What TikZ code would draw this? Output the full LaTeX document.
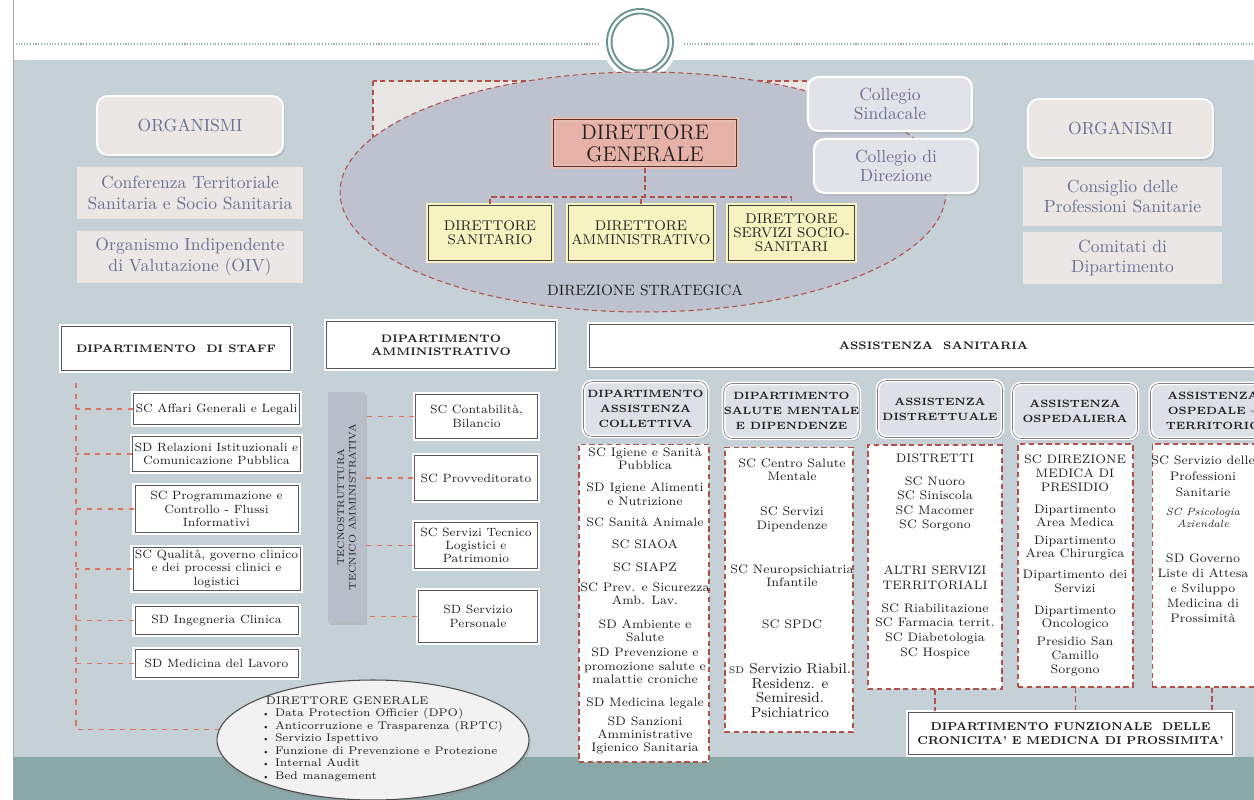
\documentclass[tikz,border=0pt]{standalone}
\usepackage{tikz}
\usetikzlibrary{shapes.geometric,shadows}

\definecolor{bgpanel}{HTML}{C5D1D6}
\definecolor{bgband}{HTML}{8BA8A9}
\definecolor{ringteal}{HTML}{6C9696}
\definecolor{orgfill}{HTML}{EBE7E4}
\definecolor{orgtext}{HTML}{6A7092}
\definecolor{collfill}{HTML}{E1E3E9}
\definecolor{stratfill}{HTML}{BEC2CF}
\definecolor{backfill}{HTML}{E9E6E3}
\definecolor{dgfill}{HTML}{E6B1A6}
\definecolor{dgline}{HTML}{5E342E}
\definecolor{dirfill}{HTML}{F7F3C1}
\definecolor{dashred}{HTML}{B0524A}
\definecolor{staffred}{HTML}{DE7563}
\definecolor{subfill}{HTML}{DEE0E7}
\definecolor{tecnofill}{HTML}{B9BDCA}
\definecolor{inktext}{HTML}{1E1E1E}

\begin{document}
\begin{tikzpicture}[x=0.02cm,y=-0.02cm]
    \tikzstyle{shade}=[drop shadow={opacity=0.25, shadow xshift=1pt, shadow yshift=-1.5pt}];
    \tikzstyle{orghead}=[shade, draw=white, line width=1pt, fill=orgfill, rounded corners=6pt, text=orgtext, font=\fontsize{10}{11.5}\selectfont, inner sep=0pt];
    \tikzstyle{orgitem}=[fill=orgfill, text=orgtext, align=center, font=\fontsize{10}{11.5}\selectfont, inner sep=0pt];
    \tikzstyle{collbox}=[shade, draw=white, line width=1.2pt, fill=collfill, rounded corners=6pt, text=orgtext, align=center, font=\fontsize{10}{11}\selectfont, inner sep=0pt];
    \tikzstyle{strat}=[ellipse, draw=dashred, densely dashed, line width=0.6pt, fill=stratfill, minimum width=12.12cm, minimum height=4.8cm, inner sep=0pt];
    \tikzstyle{dgbox}=[shade, fill=dgfill, draw=dgfill!85!white, double=dgline, line width=1.3pt, double distance=0.5pt, align=center, text=inktext, font=\fontsize{12}{12.5}\selectfont, inner sep=0pt];
    \tikzstyle{dirbox}=[shade, fill=dirfill, draw=dirfill, double=black!75, line width=1.3pt, double distance=0.5pt, align=center, text=inktext, font=\fontsize{8}{8}\selectfont, inner sep=0pt, minimum height=1.1cm];
    \tikzstyle{dashline}=[dashred, densely dashed, line width=0.6pt];
    \tikzstyle{staffline}=[staffred, dashed, line width=0.8pt];
    \tikzstyle{depthead}=[shade, fill=white, draw=white, double=black!65, line width=1.2pt, double distance=0.5pt, align=center, text=inktext, font=\bfseries\fontsize{6.2}{7.6}\selectfont, inner sep=0pt];
    \tikzstyle{itembox}=[shade, fill=white, draw=white, double=black!65, line width=1.2pt, double distance=0.5pt, align=center, text=inktext, font=\fontsize{6.8}{7.6}\selectfont, inner sep=1pt];
    \tikzstyle{subhead}=[shade, fill=subfill, draw=white, double=black!50, line width=0.9pt, double distance=0.4pt, rounded corners=5pt, align=center, text=inktext, font=\bfseries\fontsize{6}{8.4}\selectfont, inner sep=0pt, minimum width=2.48cm, minimum height=1.1cm];
    \tikzstyle{listbox}=[fill=white, draw=dashred, densely dashed, line width=0.6pt, inner sep=0pt];
    \tikzstyle{listtxt}=[align=center, text=inktext, font=\fontsize{7}{7.6}\selectfont, inner sep=0pt];

    \useasboundingbox (0,0) rectangle (1254,800);
    \clip (0,0) rectangle (1254,800);

    \fill[bgpanel] (13,60) rectangle (1254,757);
    \fill[bgband] (13,757) rectangle (1254,800);
    \draw[gray!70, line width=0.4pt] (13,0) -- (13,800);
    \draw[ringteal!80, densely dotted, line width=0.6pt] (13,44) -- (598,44) (684,44) -- (1254,44);
    \fill[white] (640,42) circle [radius=0.76cm];
    \draw[ringteal, line width=1.1pt] (640,42) circle [radius=0.66cm];
    \draw[ringteal, line width=1.1pt] (640,42) circle [radius=0.57cm];

    \node[orghead, minimum width=3.72cm, minimum height=1.18cm] (orgL) at (190,125.5) {ORGANISMI};
    \node[orgitem, minimum width=4.52cm, minimum height=1.04cm] (confts) at (190,193) {Conferenza Territoriale\\Sanitaria e Socio Sanitaria};
    \node[orgitem, minimum width=4.52cm, minimum height=1.04cm] (oiv) at (190,257) {Organismo Indipendente\\di Valutazione (OIV)};

    \draw[dashline, fill=backfill] (373,81) rectangle (818,200);
    \node[strat] (strat) at (643,192) {};
    \node[font=\fontsize{8.5}{9}\selectfont, text=inktext] (stratlabel) at (645,290) {DIREZIONE STRATEGICA};

    \node[dgbox, minimum width=3.66cm, minimum height=0.94cm] (dg) at (645,143) {DIRETTORE\\GENERALE};
    \node[dirbox, minimum width=2.46cm] (ds) at (490,233) {DIRETTORE\\SANITARIO};
    \node[dirbox, minimum width=2.9cm] (da) at (641,233) {DIRETTORE\\AMMINISTRATIVO};
    \node[dirbox, minimum width=2.52cm] (dss) at (791.5,233) {DIRETTORE\\SERVIZI SOCIO-\\SANITARI};
    \coordinate (dgbar) at (645,197);
    \draw[dashline] (dg.south) -- (dgbar);
    \draw[dashline] (ds.north) |- (dgbar) -| (dss.north);
    \draw[dashline] (da.north) -- (da.north |- dgbar);

    \node[collbox, minimum width=3.28cm, minimum height=1.08cm] (csind) at (890,104) {Collegio\\Sindacale};
    \node[collbox, minimum width=3.28cm, minimum height=1.08cm] (cdir) at (896,166) {Collegio di\\Direzione};

    \node[orghead, minimum width=3.7cm, minimum height=1.18cm] (orgR) at (1120.5,128.5) {ORGANISMI};
    \node[orgitem, minimum width=3.98cm, minimum height=1.18cm] (cps) at (1122.5,196.5) {Consiglio delle\\Professioni Sanitarie};
    \node[orgitem, minimum width=3.98cm, minimum height=1.04cm] (cdip) at (1122.5,258) {Comitati di\\Dipartimento};

    \node[depthead, minimum width=4.58cm, minimum height=0.88cm] (staff) at (176,348.5) {DIPARTIMENTO\ \ DI STAFF};
    \foreach \n/\y/\h/\t in {stA/409/0.62/SC Affari Generali e Legali, stB/454/0.7/SD Relazioni Istituzionali e\\Comunicazione Pubblica, stC/509/0.94/SC Programmazione e\\Controllo - Flussi\\Informativi, stD/569/0.86/{SC Qualità, governo clinico\\e dei processi clinici e\\logistici}, stE/620.5/0.56/SD Ingegneria Clinica, stF/663.5/0.56/SD Medicina del Lavoro}
        \node[itembox, minimum width=3.26cm, minimum height=\h cm] (\n) at (216.5,\y) {\t};

    \node[ellipse, shade, fill=white!95!black, draw=black!70, line width=0.6pt, minimum width=6.24cm, minimum height=2.4cm, inner sep=0pt] (dgstaff) at (373,740) {};
    \node[anchor=north west, align=left, text=inktext, font=\fontsize{6.3}{7.1}\selectfont, inner sep=0pt] (dglist) at (261,696) {\ DIRETTORE GENERALE\\{\tiny\textbullet} Data Protection Officier (DPO)\\{\tiny\textbullet} Anticorruzione e Trasparenza (RPTC)\\{\tiny\textbullet} Servizio Ispettivo\\{\tiny\textbullet} Funzione di Prevenzione e Protezione\\{\tiny\textbullet} Internal Audit\\{\tiny\textbullet} Bed management};

    \coordinate (stafftop) at (76,383);
    \coordinate (staffbot) at (dgstaff.176 -| stafftop);
    \draw[staffline] (stafftop) -- (staffbot) -- (dgstaff.176);
    \foreach \n in {stA,stB,stC,stD,stE,stF}
        \draw[staffline] (\n.west) -- (\n.west -| stafftop);

    \node[depthead, minimum width=4.58cm, minimum height=0.94cm] (damm) at (441,345) {DIPARTIMENTO\\AMMINISTRATIVO};
    \node[shade, fill=tecnofill, rotate=90, minimum width=4.6cm, minimum height=0.74cm, align=center, text=inktext, font=\fontsize{5.5}{6.6}\selectfont, inner sep=0pt] (tecno) at (346.5,507) {TECNOSTRUTTURA\\TECNICO AMMINISTRATIVA};
    \node[itembox, minimum width=2.44cm, minimum height=0.88cm] (amA) at (476.5,416.5) {SC Contabilità,\\Bilancio};
    \node[itembox, minimum width=2.46cm, minimum height=0.9cm] (amB) at (476,478) {SC Provveditorato};
    \node[itembox, minimum width=2.46cm, minimum height=0.92cm] (amC) at (476,545.5) {SC Servizi Tecnico\\Logistici e\\Patrimonio};
    \node[itembox, minimum width=2.38cm, minimum height=1.04cm] (amD) at (478,616.5) {SD Servizio\\Personale};
    \foreach \n in {amA,amB,amC,amD}
        \draw[staffline] (\n.west) -- (\n.west -| tecno.south);

    \node[depthead, minimum width=13.76cm, minimum height=0.86cm] (assan) at (933.5,346) {ASSISTENZA\ \ SANITARIA};

    \node[subhead] (coll) at (645.5,409) {DIPARTIMENTO\\ASSISTENZA\\COLLETTIVA};
    \node[subhead] (salm) at (791.5,411) {DIPARTIMENTO\\SALUTE MENTALE\\E DIPENDENZE};
    \node[subhead, minimum width=2.5cm, minimum height=1.14cm] (distr) at (940,409) {ASSISTENZA\\DISTRETTUALE};
    \node[subhead, minimum width=2.5cm] (osped) at (1075,411) {ASSISTENZA\\OSPEDALIERA};
    \node[subhead, minimum width=2.5cm] (terr) at (1213,411) {ASSISTENZA\\OSPEDALE --\\TERRITORIO};

    \node[listbox, minimum width=2.6cm, minimum height=6.36cm] (collbox) at (644,603) {};
    \node[listbox, minimum width=2.56cm, minimum height=5.7cm] (salmbox) at (789,589.5) {};
    \node[listbox, minimum width=2.68cm, minimum height=4.88cm] (distrbox) at (935,567) {};
    \node[listbox, minimum width=2.3cm, minimum height=4.86cm] (ospedbox) at (1075.5,565.5) {};
    \node[listbox, minimum width=2.4cm, minimum height=4.86cm] (terrbox) at (1212,565.5) {};

    \foreach \y/\t [count=\i] in {458.5/SC Igiene e Sanità\\Pubblica, 494/SD Igiene Alimenti\\e Nutrizione, 522/SC Sanità Animale, 544/SC SIAOA, 567/SC SIAPZ, 593.5/SC Prev. e Sicurezza\\Amb. Lav., 630.5/SD Ambiente e\\Salute, 666/SD Prevenzione e\\promozione salute e\\malattie croniche, 703/SD Medicina legale, 735.5/SD Sanzioni\\Amministrative\\Igienico Sanitaria}
        \node[listtxt] (coll-\i) at (645,\y) {\t};

    \foreach \y/\t [count=\i] in {469.5/SC Centro Salute\\Mentale, 519.5/SC Servizi\\Dipendenze, 575.5/SC Neuropsichiatria\\Infantile, 624/SC SPDC}
        \node[listtxt] (salm-\i) at (792,\y) {\t};
    \node[listtxt, font=\fontsize{8.2}{8.5}\selectfont] (salm-5) at (790,690.5) {{\fontsize{5.5}{6}\selectfont SD} Servizio Riabil.\\Residenz. e\\Semiresid.\\Psichiatrico};

    \foreach \y/\t [count=\i] in {458/DISTRETTI, 504/SC Nuoro\\SC Siniscola\\SC Macomer\\SC Sorgono, 578/ALTRI SERVIZI\\TERRITORIALI, 631/SC Riabilitazione\\SC Farmacia territ.\\SC Diabetologia\\SC Hospice}
        \node[listtxt, font=\fontsize{7}{8.3}\selectfont] (distr-\i) at (935,\y) {\t};

    \foreach \y/\t [count=\i] in {473.5/SC DIREZIONE\\MEDICA DI\\PRESIDIO, 516/Dipartimento\\Area Medica, 548/Dipartimento\\Area Chirurgica, 581.5/Dipartimento dei\\Servizi, 618/Dipartimento\\Oncologico, 656.5/Presidio San\\Camillo\\Sorgono}
        \node[listtxt, font=\fontsize{7}{7.8}\selectfont] (osped-\i) at (1075,\y) {\t};

    \node[listtxt, font=\fontsize{7}{9}\selectfont] (terr-1) at (1203,476) {SC Servizio delle\\Professioni\\Sanitarie};
    \node[listtxt, font=\itshape\fontsize{6}{6.8}\selectfont] (terr-2) at (1203,518) {SC Psicologia\\Aziendale};
    \node[listtxt, font=\fontsize{7}{8.5}\selectfont] (terr-3) at (1203,588) {SD Governo\\Liste di Attesa\\e Sviluppo\\Medicina di\\Prossimità};

    \node[depthead, font=\bfseries\fontsize{6.5}{8}\selectfont, minimum width=6.48cm, minimum height=0.84cm] (dfunz) at (1070.5,733.5) {DIPARTIMENTO FUNZIONALE\ \ DELLE\\CRONICITA' E MEDICNA DI PROSSIMITA'};
    \foreach \n in {distrbox,ospedbox,terrbox}
        \draw[dashline] (\n.south) -- (\n.south |- dfunz.north);
\end{tikzpicture}
\end{document}
